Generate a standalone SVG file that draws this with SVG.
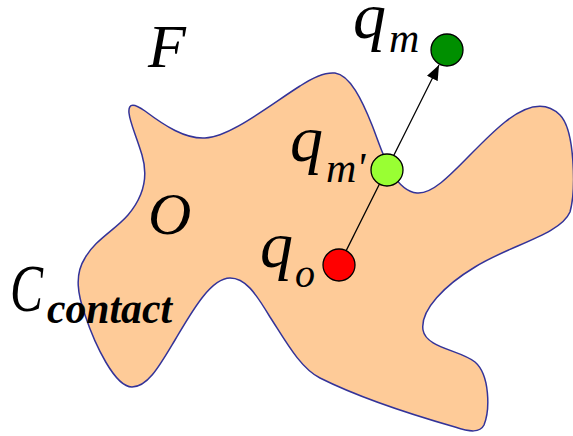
<svg xmlns="http://www.w3.org/2000/svg" width="573" height="436" viewBox="0 0 573 436">
<style>
.t{font-family:"Liberation Serif","Times New Roman",serif;font-style:italic;fill:#000}
.pt{stroke:#000;stroke-width:1.3}
</style>
<defs>
<marker id="ah" markerUnits="userSpaceOnUse" markerWidth="16" markerHeight="12" refX="15" refY="6" orient="auto">
<path d="M0,0 L15,6 L0,12 Z" fill="#000"/>
</marker>
</defs>
<rect width="573" height="436" fill="#fff"/>
<g id="obstacle">
<path d="M129,113 C128,102 135,104 145,111 C165,126 185,139 205,138 C230,137 270,105 300,86 C315,76 325,72 335,73 C350,75 362,100 372,125 C382,150 392,190 417,193 C440,195 470,150 505,122 C525,106 545,100 560,115 C575,130 576,190 570,212 C560,235 510,245 475,267 C445,285 420,310 423,330 C426,348 460,350 475,362 C490,375 490,410 484,425 C480,433 470,432 455,427 C420,417 360,398 320,378 C300,368 285,340 270,317 C255,292 245,278 230,278 C210,278 190,315 175,340 C160,365 148,387 132,387 C115,387 95,345 85,315 C78,295 74,275 85,258 C95,240 115,230 128,215 C145,195 148,175 142,155 C136,135 130,123 129,113 Z" fill="#FECB98" stroke="#333399" stroke-width="1.5"/>
</g>
<g id="connectors">
<line x1="339" y1="265" x2="439" y2="65" stroke="#000" stroke-width="1.3" marker-end="url(#ah)"/>
</g>
<g id="q_m">
<circle cx="447" cy="50" r="16" fill="#008F00" class="pt"/>
<text class="t" x="353" y="38" font-size="66">q<tspan font-size="42" dx="3" dy="14">m</tspan></text>
</g>
<g id="q_m_prime">
<circle cx="387" cy="170" r="16" fill="#99FF33" class="pt"/>
<text class="t" x="290" y="161" font-size="66">q<tspan font-size="42" dx="3" dy="21">m'</tspan></text>
</g>
<g id="q_o">
<circle cx="339" cy="265" r="16" fill="#FF0000" class="pt"/>
<text class="t" x="260" y="267" font-size="66">q<tspan font-size="40" dx="2" dy="20">o</tspan></text>
</g>
<g id="labels">
<text class="t" x="148" y="67" font-size="62">F</text>
<text class="t" x="148" y="234" font-size="60">O</text>
<text class="t" x="10" y="311" font-size="68" textLength="33" lengthAdjust="spacingAndGlyphs">C</text>
<text class="t" x="47" y="323" font-size="44" font-weight="bold" textLength="125" lengthAdjust="spacingAndGlyphs">contact</text>
</g>
</svg>
